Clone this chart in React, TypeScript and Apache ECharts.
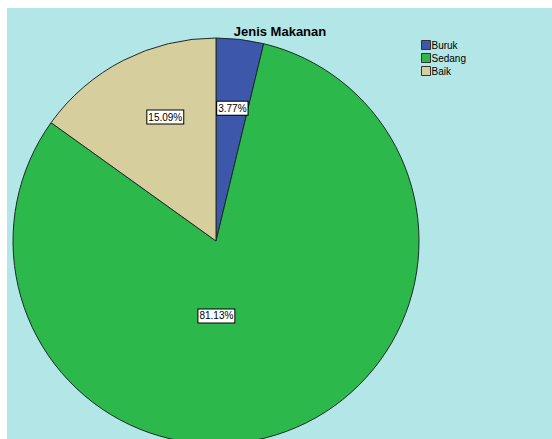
import React, { useEffect, useRef } from "react";
import * as echarts from "echarts";

const categories = ["Buruk", "Sedang", "Baik"];
const counts = [2, 43, 8];
const colors = ["#3d57ab", "#2cb84a", "#d6cf9d"];
const chartTitle = "Jenis Makanan";

export default function App() {
  const ref = useRef<HTMLDivElement>(null);
  useEffect(() => {
    if (!ref.current) return;
    const chart = echarts.init(ref.current, null, { renderer: "svg" });
    const total = counts.reduce((a, b) => a + b, 0);
    const offsets: Record<number, [number, number]> = {
      0: [4, -29],
      1: [-36, -23],
      2: [-3, -31],
    };
    chart.setOption({
      animation: false,
      backgroundColor: "#b3e6e6",
      title: {
        text: chartTitle,
        left: 268,
        top: 12,
        textAlign: "center",
        textStyle: { fontFamily: "Liberation Sans", fontSize: 13, fontWeight: "bold", color: "#000" },
      },
      legend: {
        orient: "vertical",
        left: 409,
        top: 27,
        itemWidth: 9,
        itemHeight: 9,
        itemGap: 3,
        icon: "rect",
        data: categories,
        itemStyle: { borderColor: "#333", borderWidth: 1 },
        textStyle: { fontFamily: "Liberation Sans", fontSize: 10, color: "#000", padding: [0, 0, 0, -4] },
      },
      series: [
        {
          type: "pie",
          center: [209, 233],
          radius: 203,
          startAngle: 90,
          clockwise: true,
          avoidLabelOverlap: false,
          data: categories.map((c, i) => ({
            name: c,
            value: counts[i],
            itemStyle: { color: colors[i] },
          })),
          itemStyle: { borderColor: "#1e2a2a", borderWidth: 1 },
          label: {
            show: true,
            position: "inside",
            formatter: (p: any) => ((p.value / total) * 100).toFixed(2) + "%",
            fontFamily: "Liberation Sans",
            fontSize: 10,
            color: "#000",
            backgroundColor: "#fff",
            borderColor: "#000",
            borderWidth: 1,
            padding: [2, 1, 1, 1],
          },
          labelLayout: (p: any) => ({ dx: offsets[p.dataIndex][0], dy: offsets[p.dataIndex][1] }),
          labelLine: { show: false },
          emphasis: { disabled: true },
        },
      ],
    });
    return () => chart.dispose();
  }, []);
  return (
    <div style={{ position: "fixed", left: 0, top: 0, width: 552, height: 439, background: "#fff" }}>
      <div ref={ref} style={{ position: "absolute", left: 7, top: 8, width: 545, height: 431 }} />
    </div>
  );
}
